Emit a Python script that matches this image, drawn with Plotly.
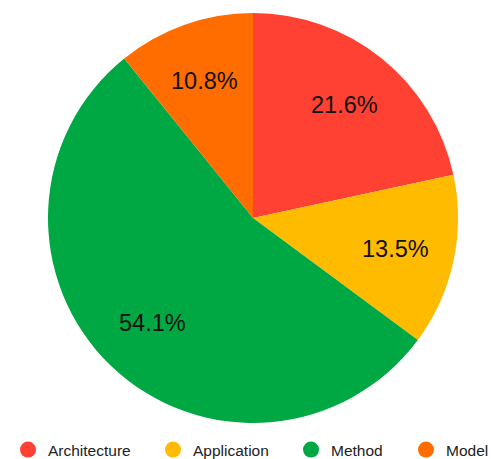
import math
import plotly.graph_objects as go

# Share of items by category
categories = ["Architecture", "Application", "Method", "Model"]
counts = [8, 5, 20, 4]
colors = ["#FF4133", "#FFBB00", "#00A843", "#FF6D00"]

W, H = 491, 459
ML, MR, MT, MB = 48, 33, 13, 36
plot_w = W - ML - MR
plot_h = H - MT - MB
radius = min(plot_w, plot_h) / 2
label_frac = 0.71  # label distance from centre, as a fraction of the radius

fig = go.Figure()
fig.add_trace(go.Pie(
    labels=categories,
    values=counts,
    marker=dict(colors=colors, line=dict(width=0)),
    sort=False,
    direction="clockwise",
    rotation=0,
    textinfo="none",
    showlegend=False,
    hoverinfo="label+percent",
))

# Percentage labels placed along each slice's bisector
total = sum(counts)
annotations = []
cum = 0
for v in counts:
    share = v / total
    theta = 2 * math.pi * (cum + share / 2)
    cum += share
    d = label_frac * radius
    annotations.append(dict(
        x=0.5 + d * math.sin(theta) / plot_w,
        y=0.5 + d * math.cos(theta) / plot_h,
        xref="paper", yref="paper", xanchor="center", yanchor="middle",
        text=f"{share * 100:.1f}%", showarrow=False,
        font=dict(family="Liberation Sans, Arial, sans-serif", size=23.5, color="#111111"),
    ))

# Legend entries with round markers, one legend per entry so each can be placed
legend_px = [27, 172, 310, 425]
legend_ids = ["legend", "legend2", "legend3", "legend4"]
for name, col, lid in zip(categories, colors, legend_ids):
    fig.add_trace(go.Scatter(
        x=[None], y=[None], mode="markers", name=name,
        marker=dict(symbol="circle", size=20, color=col),
        legend=lid, showlegend=True, hoverinfo="skip",
    ))

layout = dict(
    width=W, height=H,
    margin=dict(l=ML, r=MR, t=MT, b=MB, pad=0, autoexpand=False),
    paper_bgcolor="white", plot_bgcolor="white",
    xaxis=dict(visible=False), yaxis=dict(visible=False),
    annotations=annotations,
)
for px, lid in zip(legend_px, legend_ids):
    layout[lid] = dict(
        x=(px - 19 - ML) / plot_w, xanchor="left",
        y=(MT + plot_h - 450) / plot_h, yanchor="middle",
        orientation="h", bgcolor="rgba(0,0,0,0)", borderwidth=0,
        font=dict(family="Liberation Sans, Arial, sans-serif", size=15.5, color="#222222"),
    )
fig.update_layout(**layout)

fig.write_html("out.html")
